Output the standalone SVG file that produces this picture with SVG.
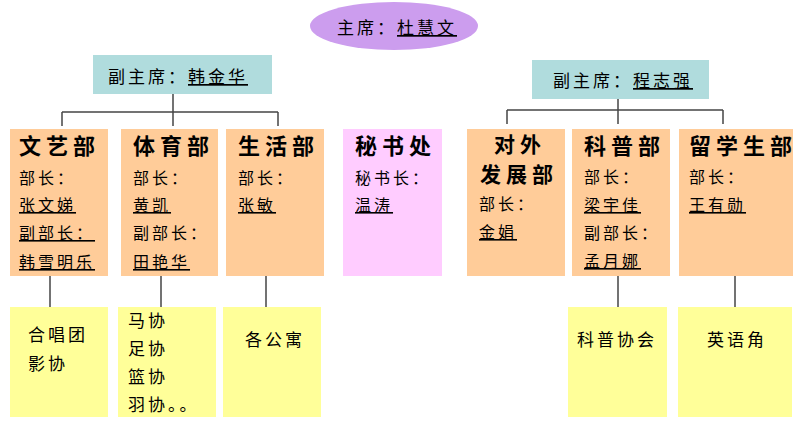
<svg xmlns="http://www.w3.org/2000/svg" width="800" height="425" viewBox="0 0 800 425">
<style>
.t{font-family:"Noto Sans CJK SC","Liberation Sans",sans-serif;fill:#000;}
.h{font-size:22px;font-weight:bold;letter-spacing:5px;}
.h2{font-size:21px;font-weight:bold;letter-spacing:5px;}
.s{font-size:16px;letter-spacing:3px;}
.m{font-size:17px;letter-spacing:3px;}
.u{text-decoration:underline;}
.dept{fill:#FFCC99;}
.sec{fill:#FFCCFF;}
.club{fill:#FFFF99;}
.vp{fill:#B0DCDD;}
.c line{stroke:#444;stroke-width:1.5;}
</style>
<rect width="800" height="425" fill="#fff"/>
<g class="c" id="connectors">
<line x1="173" y1="94" x2="173" y2="112"/>
<line x1="62" y1="112" x2="278" y2="112"/>
<line x1="62" y1="112" x2="62" y2="126"/>
<line x1="173" y1="112" x2="173" y2="126"/>
<line x1="278" y1="112" x2="278" y2="126"/>
<line x1="618" y1="99" x2="618" y2="110"/>
<line x1="507" y1="110" x2="723" y2="110"/>
<line x1="507" y1="110" x2="507" y2="124"/>
<line x1="618" y1="110" x2="618" y2="124"/>
<line x1="723" y1="110" x2="723" y2="124"/>
<line x1="50" y1="276" x2="50" y2="307"/>
<line x1="161" y1="276" x2="161" y2="307"/>
<line x1="266" y1="276" x2="266" y2="307"/>
<line x1="618" y1="276" x2="618" y2="307"/>
<line x1="735" y1="276" x2="735" y2="307"/>
</g>
<g id="chair">
<ellipse cx="394" cy="26" rx="84" ry="24" fill="#CC9DEE"/>
<text class="t m" x="337" y="34">主席：</text>
<text class="t m u" x="397" y="34">杜慧文</text>
</g>
<g id="vp-left">
<rect class="vp" x="93" y="55" width="179" height="39"/>
<text class="t m" x="108" y="83">副主席：</text>
<text class="t m u" x="188" y="83">韩金华</text>
</g>
<g id="vp-right">
<rect class="vp" x="532" y="60" width="177" height="39"/>
<text class="t m" x="553" y="87">副主席：</text>
<text class="t m u" x="633" y="87">程志强</text>
</g>
<g id="wenyi">
<rect class="dept" x="10" y="129" width="98" height="147"/>
<text class="t h" x="19" y="154">文艺部</text>
<text class="t s" x="19" y="184">部长：</text>
<text class="t s u" x="19" y="211">张文娣</text>
<text class="t s u" x="19" y="239">副部长：</text>
<text class="t s u" x="19" y="268">韩雪明乐</text>
</g>
<g id="tiyu">
<rect class="dept" x="121" y="129" width="97" height="147"/>
<text class="t h" x="133" y="154">体育部</text>
<text class="t s" x="133" y="184">部长：</text>
<text class="t s u" x="133" y="211">黄凯</text>
<text class="t s" x="133" y="239">副部长：</text>
<text class="t s u" x="133" y="268">田艳华</text>
</g>
<g id="shenghuo">
<rect class="dept" x="226" y="129" width="98" height="147"/>
<text class="t h" x="238" y="154">生活部</text>
<text class="t s" x="238" y="184">部长：</text>
<text class="t s u" x="238" y="211">张敏</text>
</g>
<g id="mishu">
<rect class="sec" x="343" y="129" width="99" height="147"/>
<text class="t h" x="355" y="154">秘书处</text>
<text class="t s" x="355" y="184">秘书长：</text>
<text class="t s u" x="355" y="211">温涛</text>
</g>
<g id="duiwai">
<rect class="dept" x="467" y="129" width="98" height="147"/>
<text class="t h2" x="494" y="152">对外</text>
<text class="t h2" x="480" y="182">发展部</text>
<text class="t s" x="479" y="210">部长：</text>
<text class="t s u" x="479" y="238">金娟</text>
</g>
<g id="kepu">
<rect class="dept" x="572" y="129" width="98" height="147"/>
<text class="t h" x="584" y="154">科普部</text>
<text class="t s" x="584" y="183">部长：</text>
<text class="t s u" x="584" y="211">梁宇佳</text>
<text class="t s" x="584" y="239">副部长：</text>
<text class="t s u" x="584" y="267">孟月娜</text>
</g>
<g id="liuxue">
<rect class="dept" x="679" y="129" width="114" height="147"/>
<text class="t h" x="689" y="154">留学生部</text>
<text class="t s" x="689" y="183">部长：</text>
<text class="t s u" x="689" y="211">王有勋</text>
</g>
<g id="club-wenyi">
<rect class="club" x="10" y="307" width="98" height="110"/>
<text class="t m" x="28" y="341">合唱团</text>
<text class="t m" x="28" y="370">影协</text>
</g>
<g id="club-tiyu">
<rect class="club" x="118" y="307" width="98" height="110"/>
<text class="t m" x="128" y="327">马协</text>
<text class="t m" x="128" y="355">足协</text>
<text class="t m" x="128" y="383">篮协</text>
<text class="t m" x="128" y="411">羽协。。</text>
</g>
<g id="club-shenghuo">
<rect class="club" x="223" y="307" width="98" height="110"/>
<text class="t m" x="245" y="346">各公寓</text>
</g>
<g id="club-kepu">
<rect class="club" x="568" y="307" width="99" height="110"/>
<text class="t m" x="577" y="346">科普协会</text>
</g>
<g id="club-liuxue">
<rect class="club" x="678" y="307" width="114" height="110"/>
<text class="t m" x="707" y="346">英语角</text>
</g>
</svg>
